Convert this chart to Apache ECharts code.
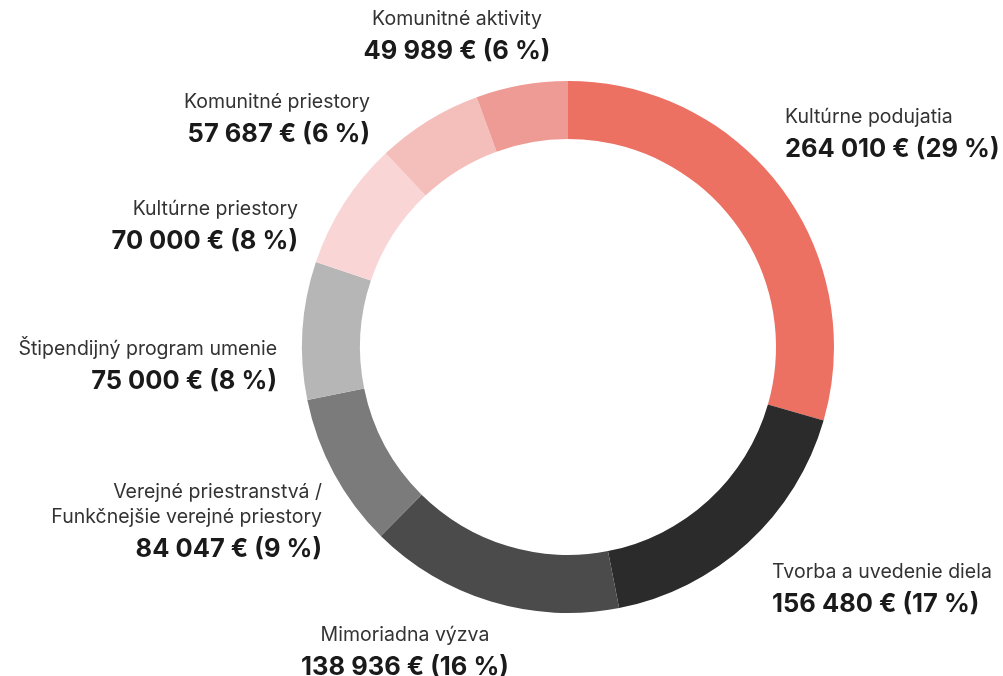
<!DOCTYPE html>
<html>
<head>
<meta charset="utf-8">
<script src="https://cdn.jsdelivr.net/npm/echarts@6/dist/echarts.min.js"></script>
<style>
  html, body { margin: 0; padding: 0; background: #fff; }
  #chart { width: 1003px; height: 676px; }
</style>
</head>
<body>
<div id="chart"></div>
<script>
const categories = [
  "Kultúrne podujatia",
  "Tvorba a uvedenie diela",
  "Mimoriadna výzva",
  "Verejné priestranstvá /\nFunkčnejšie verejné priestory",
  "Štipendijný program umenie",
  "Kultúrne priestory",
  "Komunitné priestory",
  "Komunitné aktivity",
];
const amounts = [264010, 156480, 138936, 84047, 75000, 70000, 57687, 49989];
const percents = [29, 17, 16, 9, 8, 8, 6, 6];
const colors = ["#ec7163", "#2b2b2b", "#4b4b4b", "#7b7b7b", "#b6b6b6", "#f9d5d6", "#f4bebb", "#ef9b95"];

// where each label block sits (x anchor, top y, alignment)
const labelSpots = [
  { x: 785, y: 105, align: "left" },
  { x: 772, y: 560, align: "left" },
  { x: 405, y: 623, align: "center" },
  { x: 322, y: 480, align: "right" },
  { x: 277, y: 337, align: "right" },
  { x: 298, y: 197, align: "right" },
  { x: 370, y: 90, align: "right" },
  { x: 457, y: 7, align: "center" },
];

function fmt(n) {
  return String(n).replace(/\B(?=(\d{3})+(?!\d))/g, " ");
}

const chart = echarts.init(document.getElementById("chart"));
chart.setOption({
  animation: false,
  color: colors,
  series: [
    {
      type: "pie",
      center: [568, 347],
      radius: [208, 266],
      startAngle: 90,
      clockwise: true,
      avoidLabelOverlap: false,
      itemStyle: { borderWidth: 0 },
      labelLine: { show: false },
      label: {
        show: true,
        fontFamily: "Inter",
        formatter: (p) =>
          "{n|" + categories[p.dataIndex].split("\n").join("}\n{n|") + "}\n{v|" +
          fmt(amounts[p.dataIndex]) + " € (" + percents[p.dataIndex] + " %)}",
        rich: {
          n: { fontFamily: "Inter", fontSize: 19.5, color: "#333", lineHeight: 25 },
          v: { fontFamily: "Inter", fontSize: 25.5, fontWeight: 700, color: "#1a1a1a", lineHeight: 39 },
        },
      },
      labelLayout: (params) => {
        const s = labelSpots[params.dataIndex];
        return { x: s.x, y: s.y, align: s.align, verticalAlign: "top" };
      },
      data: categories.map((c, i) => ({ name: c, value: amounts[i] })),
    },
  ],
});
</script>
</body>
</html>
